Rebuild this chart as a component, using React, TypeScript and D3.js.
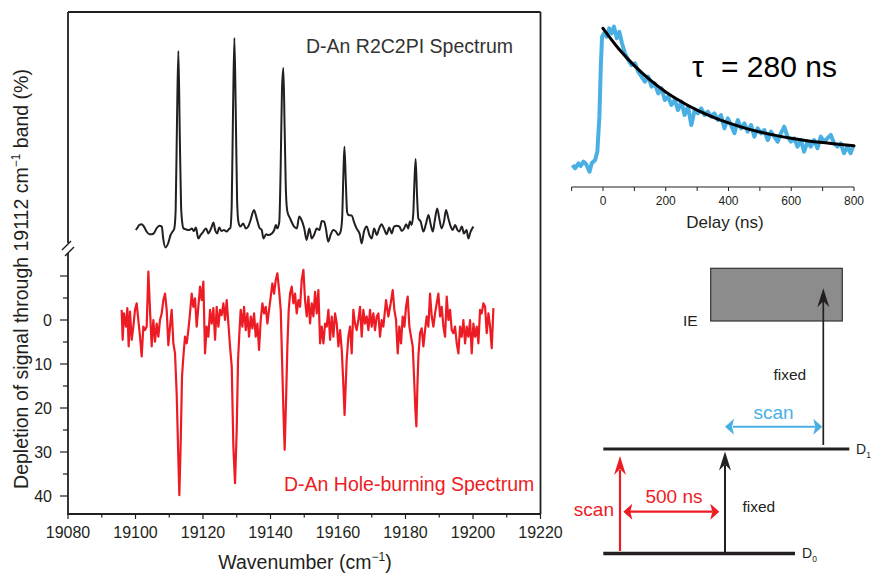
import React from 'react';
import * as d3 from 'd3';

const W = 871;
const H = 573;

// ---------- Main spectrum data ----------
const xMajorTicks = [19080, 19100, 19120, 19140, 19160, 19180, 19200, 19220];
const xMinorTicks = [19090, 19110, 19130, 19150, 19170, 19190, 19210];
const yTickLabels = [0, 10, 20, 30, 40];
const yAllTicks = [-10, -5, 0, 5, 10, 15, 20, 25, 30, 35, 40];

// R2C2PI spectrum (arbitrary units), [wavenumber, signal]
const r2c2piSpectrum: [number, number][] = [
  [19100.1, 0], [19100.5, 1], [19101.1, 2.5], [19101.8, 2.9], [19102.5, 1.7], [19103.3, -0.8],
  [19104.1, -2.1], [19104.8, -2.1], [19105.5, -1.5], [19106.3, 1], [19107.1, 2.1], [19107.8, 1.7],
  [19108.2, -4.2], [19108.9, -8.7], [19109.7, -6.5], [19110.4, -2.5], [19111.0, -0.8], [19111.5, 0.8],
  [19111.9, 10], [19112.3, 55], [19112.7, 89.5], [19113.1, 50], [19113.5, 12], [19113.9, 3],
  [19114.2, 0.8], [19115.0, 0.3], [19115.9, 0], [19116.7, 0.8], [19117.3, -0.5], [19117.9, 1.2],
  [19118.6, -4.2], [19119.3, -2.5], [19120.1, -0.8], [19120.9, 0.8], [19121.6, -1.7], [19122.6, 1.7],
  [19123.1, 3.8], [19123.6, 0], [19124.2, -1.7], [19124.8, 1.2], [19125.5, -0.5], [19126.2, 0],
  [19127.0, -0.8], [19127.6, 0.3], [19128.1, 1], [19128.5, 12], [19128.9, 60], [19129.3, 96],
  [19129.7, 60], [19130.1, 15], [19130.5, 4], [19131.1, 1.7], [19131.9, 3.3], [19132.7, 0.7],
  [19133.4, 1.7], [19134.1, 5], [19135.1, 10], [19135.9, 5.8], [19136.7, 1.2], [19137.4, 0],
  [19137.9, -4.2], [19138.7, -2.1], [19139.3, -2.5], [19140.4, -1.7], [19141.1, 0], [19141.6, 2.5],
  [19142.0, 0.8], [19142.6, 4], [19143.0, 30], [19143.4, 70], [19143.8, 81], [19144.2, 50],
  [19144.6, 18], [19145.0, 9.2], [19145.8, 5.8], [19147.0, 1.7], [19147.8, 0.8], [19148.5, 6.7],
  [19149.2, 5], [19150.0, 0.8], [19150.7, -5], [19151.5, 0.8], [19152.2, -4.2], [19152.9, -2.5],
  [19153.7, 0.8], [19154.5, 0], [19155.2, 4.5], [19155.9, 4.2], [19156.4, 0.8], [19157.1, -5.8],
  [19157.8, -2.5], [19158.6, 0], [19159.4, -0.8], [19160.1, -2.5], [19160.7, -1.2], [19161.2, 5],
  [19161.6, 28], [19161.9, 41.6], [19162.3, 25], [19162.7, 9], [19163.1, 7.5], [19164.1, 7.2],
  [19164.7, 4.2], [19165.5, 0.8], [19166.5, -2.5], [19167.0, -6.7], [19167.7, -0.8], [19168.5, 1.7],
  [19169.3, -2.5], [19170.0, -4.2], [19170.7, 0.8], [19171.5, -2.5], [19172.2, 0.8], [19172.9, 2.9],
  [19173.6, 0.8], [19174.4, -2.1], [19175.2, 1.2], [19175.9, -1.7], [19176.6, 1.7], [19177.4, 2.1],
  [19178.2, 1.7], [19178.9, -0.5], [19179.6, 0.8], [19180.2, 2.9], [19180.8, 0.8], [19181.3, 4.2],
  [19181.8, 2.5], [19182.3, 8], [19182.6, 22], [19183.0, 35.5], [19183.4, 18], [19183.8, 5.8],
  [19184.5, 4.2], [19185.3, -0.8], [19186.1, 3.3], [19186.8, 7.5], [19187.5, 2.5], [19188.1, -0.8],
  [19188.7, 5], [19189.4, 10.8], [19190.0, 5.8], [19190.7, 0.8], [19191.4, 4.2], [19192.0, 10],
  [19192.7, 5.8], [19193.4, 1.7], [19194.0, 0], [19194.7, 2.5], [19195.4, 0], [19195.9, -0.8],
  [19196.7, 1.7], [19197.3, -1.7], [19198.1, 0], [19198.6, -4.2], [19199.3, -0.8], [19200.1, 1.7],
];

// Hole-burning spectrum: depletion (%), [wavenumber, depletion]
const holeBurningSpectrum: [number, number][] = [
  [19095.90, -2.3], [19096.20, 4.5], [19096.59, -1.5], [19097.19, 1.5], [19097.58, -2.7], [19097.98, 6],
  [19098.37, -1.9], [19098.87, 4.5], [19099.36, 1.5], [19099.85, -2.3], [19100.35, -3.8], [19100.84, 0],
  [19101.34, 3.8], [19101.83, 8.3], [19102.32, 1.5], [19102.82, 2.3], [19103.31, 1.5], [19103.81, -11],
  [19104.30, -2.3], [19104.79, 6], [19105.29, 0], [19105.78, 4.9], [19106.28, 0.8], [19106.77, 3.8],
  [19107.26, 0], [19107.76, -1.5], [19108.25, -4.5], [19108.75, -6], [19109.24, -2.3], [19109.73, 5.7],
  [19110.23, 1.5], [19110.72, -2.3], [19111.22, 5.3], [19111.71, 7.6], [19112.20, 16.7], [19112.70, 31.8],
  [19112.99, 39.8], [19113.39, 28], [19113.78, 12.9], [19114.18, 8.3], [19114.67, 3.8], [19115.17, 5.3],
  [19115.66, 2.3], [19116.15, -1.5], [19116.65, -6], [19117.14, -3], [19117.64, -4.9], [19118.13, 1.5],
  [19118.62, -3], [19119.12, -7.6], [19119.61, -4.5], [19120.11, -8.7], [19120.60, 7.6], [19121.09, 1.5],
  [19121.59, 3.8], [19122.08, -2.3], [19122.58, 0.8], [19123.07, -2.7], [19123.57, 4.5], [19124.06, -3],
  [19124.55, 1.5], [19125.05, -2.3], [19125.54, -1.1], [19126.04, -3.8], [19126.53, 0], [19127.02, -4.5],
  [19127.52, 0.8], [19128.01, 6], [19128.51, 10.6], [19129.00, 28.8], [19129.49, 37.1], [19129.99, 25],
  [19130.38, 9.1], [19130.78, 3], [19131.17, -2.3], [19131.67, 1.5], [19132.16, -3], [19132.66, 2.3],
  [19133.15, -1.5], [19133.64, 3.8], [19134.14, -0.8], [19134.63, 1.9], [19135.13, -1.5], [19135.62, 3.8],
  [19136.11, 0.8], [19136.61, 6.8], [19137.10, 0], [19137.60, -3.8], [19138.09, -1.5], [19138.59, -3],
  [19139.08, 0.8], [19139.57, -2.3], [19140.07, -5.3], [19140.56, -8.3], [19141.06, -6], [19141.55, -9.1],
  [19142.04, -10.6], [19142.54, -6.8], [19143.03, -2.3], [19143.43, 9.1], [19143.82, 20.5], [19144.20, 29.5],
  [19144.61, 18.2], [19145.00, 6], [19145.40, -2.3], [19145.80, -6], [19146.29, -7.6], [19146.78, -3.8],
  [19147.28, -6], [19147.77, -1.5], [19148.27, -4.5], [19148.76, -3], [19149.25, -9.1], [19149.75, -11.4],
  [19150.24, -4.5], [19150.74, -0.8], [19151.23, -5.3], [19151.72, 0.8], [19152.22, -3.8], [19152.71, -0.8],
  [19153.21, -6.4], [19153.70, -1.5], [19154.19, -6.8], [19154.69, 5.3], [19155.18, 1.5], [19155.68, 5.3],
  [19156.17, 0.8], [19156.66, 1.5], [19157.16, -2.3], [19157.65, 4.5], [19158.15, -0.8], [19158.64, 3.8],
  [19159.13, -1.5], [19159.63, 0.8], [19160.12, 6], [19160.62, 2.3], [19161.11, 6.8], [19161.55, 14],
  [19161.95, 21.6], [19162.57, 9.1], [19163.07, 3.8], [19163.56, 1.5], [19164.06, 7.6], [19164.55, -2.3],
  [19165.04, 0.8], [19165.54, 2.3], [19166.03, 0], [19166.53, -3], [19167.02, 3.8], [19167.51, -2.3],
  [19168.01, 0.8], [19168.50, -0.8], [19169.00, 2.3], [19169.49, -2.3], [19169.98, 1.5], [19170.48, -1.5],
  [19170.97, 2.3], [19171.47, -0.8], [19171.96, -1.5], [19172.45, 3.8], [19172.95, 0], [19173.44, 1.5],
  [19174.23, -4.5], [19174.92, -0.8], [19175.62, -3.8], [19176.21, -6.8], [19176.70, -2.3], [19177.20, 0],
  [19177.69, 7.6], [19178.18, 1.5], [19178.68, 5.3], [19179.17, -0.8], [19179.67, 1.5], [19180.16, -3],
  [19180.65, -5.3], [19181.15, 1.5], [19181.64, 3.8], [19182.14, 6], [19182.53, 12.9], [19182.93, 20.5],
  [19183.22, 24.2], [19183.52, 15.2], [19183.82, 8.3], [19184.31, 3], [19184.80, 1.9], [19185.30, 6],
  [19185.79, 2.3], [19186.29, -0.8], [19186.78, 1.5], [19187.27, -6], [19187.77, -0.8], [19188.26, 1.5],
  [19188.76, -1.5], [19189.25, -3.8], [19189.74, -6], [19190.24, -0.8], [19190.73, -3], [19191.23, 1.5],
  [19191.72, 3.8], [19192.21, -5.3], [19192.71, 0], [19193.20, -2.3], [19193.70, 2.3], [19194.19, 3],
  [19194.68, 1.5], [19195.18, 5.3], [19195.67, 7.6], [19196.17, 1.5], [19196.66, 3.8], [19197.15, 0],
  [19197.65, 5.3], [19198.14, 1.5], [19198.64, 3.8], [19199.13, 0], [19199.62, 7.6], [19200.12, 0.8],
  [19200.61, 3.8], [19201.11, 1.5], [19201.60, 5.3], [19202.09, -2.3], [19202.59, -1.5], [19203.08, -3.8],
  [19203.58, -3], [19204.07, 3], [19204.57, -1.5], [19205.06, 1.5], [19205.55, 6.4], [19206.05, -2.7],
];

// ---------- Inset: decay trace ----------
const delayTicks = [-100, 0, 100, 200, 300, 400, 500, 600, 700, 800];
const delayTickLabels = [0, 200, 400, 600, 800];
const decayTrace: [number, number][] = [
  [-97, 0.047], [-89, 0.025], [-78, 0.058], [-71, 0.04], [-62, 0.069], [-54, 0.053], [-43, 0.002],
  [-36, 0.058], [-25, 0.08], [-18, 0.136], [-11.5, 0.369], [-7, 0.702], [-3, 0.902], [3, 0.924],
  [11.6, 0.902], [20, 0.958], [28, 0.924], [35, 0.969], [44, 0.891], [52, 0.935], [60.5, 0.858],
  [70, 0.791], [80.5, 0.747], [91, 0.713], [101.6, 0.725], [112, 0.669], [123, 0.636], [133.5, 0.602],
  [144, 0.636], [155, 0.569], [165, 0.591], [176, 0.524], [186.5, 0.558], [197, 0.48], [207.6, 0.502],
  [218, 0.447], [229, 0.48], [239, 0.413], [250, 0.469], [260, 0.38], [271, 0.436], [281.5, 0.313],
  [292, 0.413], [302.6, 0.391], [313, 0.424], [323.8, 0.38], [334, 0.402], [345, 0.369], [355, 0.391],
  [366, 0.347], [376, 0.38], [387, 0.291], [397.7, 0.358], [408, 0.313], [419, 0.258], [429.6, 0.347],
  [440, 0.291], [450.8, 0.324], [461, 0.269], [472, 0.313], [482.5, 0.236], [493, 0.291], [503.7, 0.258],
  [514, 0.28], [525, 0.213], [535.4, 0.269], [546, 0.236], [556.6, 0.202], [567, 0.258], [577.7, 0.302],
  [588, 0.236], [598.9, 0.202], [609.5, 0.224], [620, 0.169], [630.7, 0.213], [641, 0.136], [651.9, 0.202],
  [662, 0.169], [673, 0.213], [683.6, 0.158], [694, 0.236], [704.8, 0.202], [715, 0.224], [726, 0.247],
  [736.5, 0.191], [747, 0.169], [757.7, 0.191], [768, 0.125], [779, 0.169], [789, 0.125], [797, 0.169],
];
// exponential fit (tau = 280 ns), read at every 50 ns
const fitTrace: [number, number][] = [
  [0, 0.958], [50, 0.822], [100, 0.709], [150, 0.614], [200, 0.534], [250, 0.468], [300, 0.412],
  [350, 0.366], [400, 0.327], [450, 0.294], [500, 0.267], [550, 0.244], [600, 0.225], [650, 0.209],
  [700, 0.196], [750, 0.185], [800, 0.175],
];

const FONT = '"Liberation Sans", Arial, Helvetica, sans-serif';
const INK = '#231f20';
const RED = '#ed1c24';
const BLUE = '#4aafe3';

function upHead(x: number, y: number, len = 19, hw = 6, notch = 6) {
  return `M${x},${y} L${x - hw},${y + len} L${x},${y + len - notch} L${x + hw},${y + len} Z`;
}
function sideHead(x: number, y: number, dir: number, len = 9, hw = 8, notch = 2) {
  return `M${x},${y} L${x - dir * len},${y - hw} L${x - dir * (len - notch)},${y} L${x - dir * len},${y + hw} Z`;
}

export default function App() {
  // main plot
  const left = 68, right = 540.5, top = 12, bottom = 514;
  const x = d3.scaleLinear().domain([19080, 19220]).range([left, right]);
  const yTop = d3.scaleLinear().domain([0, 100]).range([230, 30]);
  const yLow = d3.scaleLinear().domain([0, 40]).range([320, 496]);
  const breakTop = 243, breakBottom = 253;

  const blackLine = d3.line<[number, number]>().x(d => x(d[0])).y(d => yTop(d[1])).curve(d3.curveMonotoneX);
  const redLine = d3.line<[number, number]>().x(d => x(d[0])).y(d => yLow(d[1]));

  // inset
  const xi = d3.scaleLinear().domain([0, 800]).range([603, 854]);
  const yi = d3.scaleLinear().domain([0, 1]).range([172, 22]);
  const insetAxisY = 187;
  const blueLine = d3.line<[number, number]>().x(d => xi(d[0])).y(d => yi(d[1]));
  const fitLine = d3.line<[number, number]>().x(d => xi(d[0])).y(d => yi(d[1])).curve(d3.curveMonotoneX);

  // energy diagram
  const D1y = 449, D0y = 553.5;

  return (
    <svg width={W} height={H} style={{ position: 'absolute', left: 0, top: 0, background: '#fff' }}
      fontFamily={FONT}>
      <rect x={0} y={0} width={W} height={H} fill="#fff" />

      {/* frame */}
      <line x1={left} x2={right} y1={top} y2={top} stroke={INK} strokeWidth={1.8} />
      <line x1={right} x2={right} y1={top} y2={bottom} stroke={INK} strokeWidth={1.8} />
      <line x1={left} x2={right} y1={bottom} y2={bottom} stroke={INK} strokeWidth={1.8} />
      <line x1={left} x2={left} y1={top} y2={breakTop} stroke={INK} strokeWidth={1.8} />
      <line x1={left} x2={left} y1={breakBottom} y2={bottom + 0.9} stroke={INK} strokeWidth={1.8} />
      <line x1={62} x2={71} y1={250} y2={241} stroke={INK} strokeWidth={1.4} />
      <line x1={65} x2={74} y1={256} y2={247} stroke={INK} strokeWidth={1.4} />

      {/* x ticks */}
      {xMajorTicks.map(t => (
        <line key={'xM' + t} x1={x(t)} x2={x(t)} y1={bottom} y2={bottom + 5} stroke={INK} strokeWidth={1.2} />
      ))}
      {xMinorTicks.map(t => (
        <line key={'xm' + t} x1={x(t)} x2={x(t)} y1={bottom} y2={bottom + 3.5} stroke={INK} strokeWidth={1.2} />
      ))}
      {xMajorTicks.map(t => (
        <text key={'xl' + t} x={x(t)} y={538} textAnchor="middle" fontSize={16} fill={INK}>{t}</text>
      ))}

      {/* y ticks */}
      {yAllTicks.map(t => (
        <line key={'yt' + t} x1={left - (t % 10 === 0 ? 8 : 5)} x2={left} y1={yLow(t)} y2={yLow(t)}
          stroke={INK} strokeWidth={1.2} />
      ))}
      {yTickLabels.map(t => (
        <text key={'yl' + t} x={52} y={yLow(t)} dy="0.35em" textAnchor="end" fontSize={16} fill={INK}>{t}</text>
      ))}

      {/* axis titles */}
      <text x={305} y={569} textAnchor="middle" fontSize={19.5} fill={INK}>
        Wavenumber (cm<tspan fontSize={12} dy={-8}>−1</tspan><tspan dy={8}>)</tspan>
      </text>
      <text transform="translate(28,279) rotate(-90)" textAnchor="middle" fontSize={19.5} fill={INK}>
        Depletion of signal through 19112 cm<tspan fontSize={12} dy={-8}>−1</tspan><tspan dy={8}> band (%)</tspan>
      </text>

      {/* traces */}
      <path d={blackLine(r2c2piSpectrum) || ''} fill="none" stroke={INK} strokeWidth={2} strokeLinejoin="round" />
      <path d={redLine(holeBurningSpectrum) || ''} fill="none" stroke={RED} strokeWidth={2.2} strokeLinejoin="round" />

      <text x={306} y={53} fontSize={19.5} fill="#333">D-An R2C2PI Spectrum</text>
      <text x={284} y={491} fontSize={19.5} fill={RED}>D-An Hole-burning Spectrum</text>

      {/* inset */}
      <path d={blueLine(decayTrace) || ''} fill="none" stroke={BLUE} strokeWidth={4} strokeLinejoin="round" />
      <path d={fitLine(fitTrace) || ''} fill="none" stroke="#000" strokeWidth={3} strokeLinecap="round" />
      <line x1={xi(-100)} x2={xi(800)} y1={insetAxisY} y2={insetAxisY} stroke={INK} strokeWidth={1} />
      {delayTicks.map(t => (
        <line key={'dt' + t} x1={xi(t)} x2={xi(t)} y1={insetAxisY} y2={insetAxisY + 4} stroke={INK} strokeWidth={1} />
      ))}
      {delayTickLabels.map(t => (
        <text key={'dl' + t} x={xi(t)} y={205} textAnchor="middle" fontSize={12} fill={INK}>{t}</text>
      ))}
      <text x={725} y={228} textAnchor="middle" fontSize={17} fill={INK}>Delay (ns)</text>
      <text x={692} y={77} fontSize={30} fill="#000">τ</text>
      <text x={721} y={77} fontSize={30} fill="#000">= 280 ns</text>

      {/* energy diagram */}
      <rect x={710.7} y={268.3} width={131.6} height={52.7} fill="#8c8c8c" stroke="#333" strokeWidth={1.2} />
      <text x={683} y={326} fontSize={15.5} fill={INK}>IE</text>

      <line x1={603.3} x2={849.3} y1={D1y} y2={D1y} stroke={INK} strokeWidth={3} />
      <line x1={603.3} x2={795} y1={D0y} y2={D0y} stroke={INK} strokeWidth={3.5} />
      <text x={856} y={454} fontSize={14} fill={INK}>D<tspan fontSize={8.5} dy={4}>1</tspan></text>
      <text x={802} y={558} fontSize={14} fill={INK}>D<tspan fontSize={8.5} dy={4}>0</tspan></text>

      {/* upper black arrow to IE */}
      <line x1={823.3} x2={823.3} y1={445} y2={300} stroke={INK} strokeWidth={1.7} />
      <path d={upHead(823.3, 288.3)} fill={INK} />
      <text x={773.5} y={379.5} fontSize={15.5} fill={INK}>fixed</text>

      {/* blue double arrow */}
      <line x1={733} x2={815} y1={426.7} y2={426.7} stroke={BLUE} strokeWidth={2} />
      <path d={sideHead(725, 426.7, -1)} fill={BLUE} />
      <path d={sideHead(822.3, 426.7, 1)} fill={BLUE} />
      <text x={773.5} y={418.5} textAnchor="middle" fontSize={19} fill={BLUE}>scan</text>

      {/* red up arrow */}
      <line x1={620} x2={620} y1={551} y2={470} stroke={RED} strokeWidth={2.2} />
      <path d={upHead(620, 456)} fill={RED} />
      <text x={614} y={516} textAnchor="end" fontSize={19} fill={RED}>scan</text>

      {/* black middle arrow */}
      <line x1={725} x2={725} y1={552} y2={465} stroke={INK} strokeWidth={2} />
      <path d={upHead(725, 451.5)} fill={INK} />
      <text x={742.5} y={512} fontSize={15.5} fill={INK}>fixed</text>

      {/* red double arrow */}
      <line x1={630} x2={712} y1={511.7} y2={511.7} stroke={RED} strokeWidth={2.2} />
      <path d={sideHead(623.3, 511.7, -1)} fill={RED} />
      <path d={sideHead(719.3, 511.7, 1)} fill={RED} />
      <text x={674} y={503} textAnchor="middle" fontSize={19} fill={RED}>500 ns</text>
    </svg>
  );
}
